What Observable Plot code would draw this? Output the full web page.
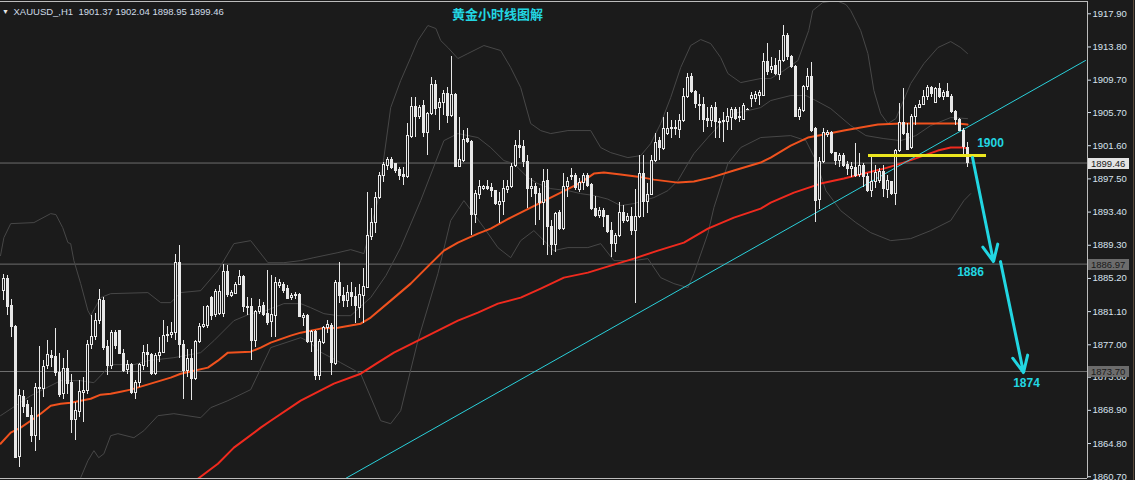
<!DOCTYPE html>
<html><head><meta charset="utf-8">
<script src="https://cdn.jsdelivr.net/npm/d3@7"></script>
<script src="https://cdn.jsdelivr.net/npm/@observablehq/plot@0.6"></script>
<style>
html,body{margin:0;padding:0;background:#1b1b1b;overflow:hidden;}
#chart svg{display:block;}
</style></head><body><div id="chart"></div>
<script>
// ---------- data (XAUUSD H1 candles, left to right) ----------
const opens = [
1883.70,1885.14,1881.84,1879.25,1863.09,1870.60,1869.60,1868.24,1865.77,1871.54,
1871.54,1874.34,1875.66,1875.45,1873.52,1870.92,1874.01,1872.24,1867.71,1868.66,
1871.00,1871.25,1877.02,1877.93,1879.99,1882.46,1876.69,1874.34,1878.42,1878.75,
1875.87,1873.89,1874.55,1871.05,1872.28,1874.38,1876.03,1875.78,1873.39,1875.62,
1876.03,1878.09,1878.17,1878.46,1887.07,1877.02,1873.81,1875.25,1872.74,1877.35,
1879.16,1879.33,1882.79,1880.69,1880.81,1880.81,1885.96,1883.08,1883.28,1884.44,
1885.43,1881.72,1881.72,1877.51,1881.10,1881.76,1880.81,1879.78,1880.61,1884.32,
1884.45,1883.90,1882.75,1883.00,1883.20,1880.32,1880.61,1877.31,1878.55,1873.19,
1877.23,1879.04,1879.37,1874.63,1884.65,1883.08,1882.46,1883.41,1882.96,1881.55,
1883.08,1884.03,1890.29,1892.02,1895.15,1897.91,1899.07,1899.89,1899.35,1898.65,
1898.00,1897.71,1902.65,1906.36,1905.12,1906.48,1903.15,1905.54,1909.12,1906.28,
1906.85,1908.01,1905.33,1907.88,1898.94,1899.77,1902.45,1902.12,1893.09,1895.56,
1896.26,1896.55,1896.35,1895.98,1894.33,1894.62,1896.18,1896.47,1899.06,1901.62,
1901.50,1899.64,1896.26,1896.47,1895.64,1894.49,1897.29,1891.61,1889.38,1893.25,
1891.32,1896.47,1897.70,1897.83,1896.14,1897.00,1897.91,1896.80,1893.79,1892.88,
1893.58,1892.88,1891.03,1889.46,1890.49,1893.30,1892.35,1892.76,1891.03,1892.76,
1898.12,1894.61,1895.56,1899.68,1902.15,1901.21,1903.06,1903.64,1903.64,1903.60,
1904.71,1907.59,1910.07,1908.29,1906.65,1906.65,1904.92,1904.63,1906.27,1904.59,
1904.71,1904.50,1905.04,1906.03,1905.04,1904.83,1906.03,1907.39,1907.39,1907.80,
1907.79,1911.91,1910.97,1911.50,1910.39,1912.12,1915.21,1912.61,1911.38,1905.20,
1905.94,1908.82,1910.06,1903.67,1894.90,1899.63,1902.97,1903.14,1900.66,1899.68,
1900.29,1899.18,1898.73,1898.81,1898.03,1899.14,1897.78,1896.05,1897.08,1897.29,
1898.40,1896.13,1897.08,1895.64,1900.99,1904.37,1903.05,1901.32,1905.20,1906.27,
1906.68,1907.67,1908.74,1906.85,1908.62,1907.67,1908.21,1907.67,1905.73,1904.79,
1903.38,1901.37];
const highs = [
1885.67,1885.55,1882.54,1879.40,1871.42,1871.33,1870.10,1869.27,1872.16,1876.77,
1875.12,1877.51,1876.28,1878.96,1875.87,1875.25,1876.28,1873.39,1869.89,1872.57,
1872.98,1877.51,1880.61,1880.81,1883.82,1882.87,1877.51,1878.75,1878.75,1878.80,
1876.48,1875.04,1874.63,1872.57,1874.71,1876.90,1877.02,1875.95,1875.95,1877.93,
1880.06,1879.25,1879.78,1888.15,1889.26,1877.51,1876.40,1876.48,1877.51,1879.66,
1881.72,1881.80,1882.95,1883.78,1884.31,1886.91,1886.79,1883.70,1884.73,1886.17,
1885.55,1882.79,1882.67,1881.22,1882.54,1882.20,1886.17,1885.55,1885.35,1885.10,
1884.70,1884.30,1883.30,1883.50,1883.30,1880.90,1880.80,1878.75,1878.80,1877.60,
1879.25,1880.00,1879.60,1884.90,1887.20,1884.10,1884.30,1884.70,1884.10,1884.50,
1886.40,1895.85,1893.79,1895.85,1898.30,1899.56,1900.10,1900.20,1899.45,1898.95,
1898.95,1904.30,1907.50,1907.60,1906.60,1907.20,1905.75,1910.07,1909.66,1907.40,
1908.40,1908.83,1912.62,1908.00,1905.12,1903.48,1903.68,1902.24,1896.06,1897.30,
1896.70,1897.30,1896.90,1896.10,1895.85,1897.30,1897.30,1899.35,1902.24,1903.47,
1902.24,1900.38,1897.50,1896.88,1896.26,1898.65,1898.65,1892.35,1893.38,1893.58,
1898.12,1897.70,1898.73,1898.12,1897.50,1898.12,1898.12,1896.96,1895.36,1894.00,
1893.79,1892.97,1892.14,1890.70,1894.61,1894.20,1893.17,1894.00,1896.14,1900.38,
1900.38,1896.88,1900.38,1903.14,1902.65,1905.12,1905.74,1904.71,1904.71,1905.45,
1908.62,1910.48,1910.48,1908.42,1907.92,1907.59,1906.27,1906.56,1906.98,1904.92,
1905.74,1906.15,1906.27,1906.27,1906.27,1906.77,1906.15,1908.21,1908.33,1908.42,
1912.94,1914.18,1912.53,1912.33,1913.36,1916.45,1915.42,1912.74,1911.50,1906.35,
1909.03,1911.09,1911.91,1903.80,1900.17,1903.67,1903.47,1903.38,1900.79,1900.58,
1900.58,1899.63,1899.55,1901.90,1900.66,1899.35,1898.11,1900.17,1899.14,1898.73,
1899.14,1897.90,1897.16,1901.08,1906.76,1908.62,1904.29,1905.44,1906.56,1907.18,
1908.41,1909.03,1908.91,1908.74,1909.32,1908.41,1909.32,1907.92,1905.94,1904.91,
1903.67,1902.04];
const lows = [
1882.46,1880.61,1877.93,1862.90,1861.86,1868.45,1868.04,1864.90,1863.84,1865.15,
1870.51,1874.01,1874.22,1873.11,1870.51,1870.30,1870.92,1865.98,1865.15,1868.04,
1867.42,1870.92,1876.48,1877.51,1879.57,1876.28,1873.19,1874.01,1876.36,1875.78,
1873.60,1873.39,1870.92,1870.30,1871.75,1873.81,1874.22,1873.19,1873.19,1874.84,
1875.87,1877.31,1877.72,1877.51,1875.25,1870.18,1872.98,1870.10,1872.57,1877.10,
1878.96,1878.96,1879.99,1880.40,1880.61,1880.40,1882.87,1882.87,1883.20,1884.31,
1881.02,1880.61,1875.04,1876.69,1880.80,1880.50,1879.40,1877.85,1877.93,1884.00,
1883.30,1882.55,1882.45,1882.60,1880.40,1879.20,1877.10,1876.10,1872.57,1872.57,
1877.00,1878.35,1873.19,1874.40,1882.05,1881.60,1881.60,1881.70,1879.60,1880.20,
1879.60,1883.90,1889.90,1890.70,1894.90,1897.10,1898.50,1898.70,1898.20,1897.30,
1896.70,1897.60,1902.45,1902.65,1904.90,1902.65,1900.40,1905.33,1905.33,1903.48,
1905.33,1904.30,1905.12,1898.90,1898.86,1899.56,1901.83,1890.50,1892.02,1895.00,
1896.06,1896.06,1895.20,1894.20,1892.02,1893.00,1895.65,1896.26,1898.94,1899.97,
1898.94,1893.79,1895.23,1891.73,1892.35,1889.26,1888.02,1888.02,1888.43,1891.11,
1891.11,1895.23,1897.29,1896.06,1895.85,1896.06,1896.47,1893.58,1892.76,1892.55,
1891.52,1890.70,1887.82,1888.43,1890.29,1891.94,1892.14,1890.49,1882.05,1892.55,
1892.76,1893.17,1895.44,1899.56,1899.76,1901.00,1902.86,1902.44,1902.86,1902.44,
1904.50,1907.39,1908.01,1906.15,1904.71,1903.27,1903.80,1903.89,1902.44,1902.44,
1902.03,1903.47,1903.47,1904.71,1904.50,1904.71,1905.90,1906.27,1906.98,1906.56,
1907.67,1910.27,1910.47,1910.27,1909.65,1911.91,1912.12,1911.09,1905.12,1904.70,
1905.73,1908.41,1903.26,1892.14,1893.78,1899.43,1902.64,1900.50,1899.14,1898.93,
1898.93,1897.90,1897.70,1897.70,1897.70,1896.46,1895.84,1895.23,1896.26,1896.87,
1895.23,1895.02,1895.43,1894.20,1900.79,1902.85,1900.99,1901.08,1904.09,1906.15,
1906.56,1907.18,1907.59,1906.76,1907.38,1907.18,1907.50,1905.53,1904.09,1903.38,
1900.38,1898.95];
const closes = [
1885.14,1881.64,1879.25,1863.00,1870.72,1869.27,1868.12,1865.69,1871.66,1871.66,
1874.30,1875.74,1875.33,1873.48,1870.84,1874.01,1872.16,1867.71,1868.78,1871.21,
1871.29,1877.02,1877.93,1879.99,1882.58,1876.61,1874.34,1878.50,1876.81,1875.87,
1873.81,1874.55,1871.05,1872.32,1874.51,1876.03,1875.74,1873.39,1875.66,1876.03,
1878.13,1878.26,1878.46,1887.07,1877.02,1873.81,1875.25,1872.74,1877.35,1879.25,
1879.49,1881.64,1880.61,1883.49,1883.49,1885.96,1883.16,1883.37,1884.44,1885.43,
1881.64,1881.55,1877.51,1881.10,1881.72,1880.73,1879.66,1880.73,1884.65,1884.65,
1883.70,1882.67,1883.08,1883.16,1880.48,1880.61,1877.31,1878.55,1873.19,1877.39,
1879.08,1879.45,1874.72,1884.65,1883.08,1882.38,1883.41,1882.87,1881.84,1883.20,
1884.19,1890.41,1892.06,1895.19,1897.91,1899.27,1899.89,1898.86,1898.45,1897.91,
1897.71,1902.77,1906.44,1905.12,1906.28,1903.15,1905.54,1909.12,1906.15,1906.90,
1908.01,1905.33,1907.88,1898.94,1899.89,1902.32,1902.03,1893.09,1895.65,1896.55,
1896.55,1896.26,1895.98,1894.41,1894.62,1896.26,1896.47,1899.00,1901.62,1901.29,
1899.56,1896.26,1896.47,1895.64,1894.49,1897.17,1891.52,1889.38,1893.17,1891.32,
1896.47,1897.17,1897.91,1896.35,1897.00,1897.91,1896.59,1893.75,1892.88,1893.58,
1892.76,1890.91,1889.46,1890.49,1893.30,1892.35,1892.76,1891.11,1892.76,1898.12,
1894.61,1895.56,1899.68,1901.91,1901.29,1903.68,1903.68,1903.76,1903.76,1904.71,
1907.59,1909.98,1908.21,1906.77,1906.56,1904.79,1904.63,1906.27,1904.59,1904.38,
1904.50,1905.12,1906.03,1904.92,1905.12,1906.56,1906.05,1907.80,1907.92,1908.09,
1911.91,1910.68,1911.30,1910.47,1912.12,1915.21,1912.53,1911.38,1905.20,1906.02,
1908.91,1910.06,1903.47,1894.81,1899.63,1903.14,1903.22,1900.66,1899.76,1900.29,
1899.14,1898.73,1898.93,1897.90,1899.14,1897.78,1896.05,1897.08,1898.19,1898.32,
1896.26,1897.20,1895.64,1900.99,1904.37,1903.05,1901.08,1905.20,1906.27,1906.68,
1907.67,1908.74,1908.00,1908.62,1907.59,1908.12,1907.67,1905.73,1904.79,1903.47,
1901.41,1899.46];

// moving averages and Bollinger bands: [bar index, price]
const maFast = [[-0.75,1864.78],[1.8,1866.14],[4.3,1866.76],[6.8,1867.62],[9.3,1868.49],[11.8,1869.48],[14.3,1869.72],[16.8,1869.85],[19.3,1870.10],[21.8,1870.34],[24.3,1870.84],[26.8,1870.96],[29.3,1871.21],[31.8,1871.46],[34.3,1871.83],[36.8,1872.20],[39.3,1872.57],[41.8,1872.94],[44.3,1873.43],[47.6,1873.80],[51.1,1874.18],[53.6,1875.04],[56.1,1876.03],[61.8,1876.15],[64.3,1876.65],[66.8,1877.27],[71.8,1878.13],[74.3,1878.50],[79.3,1879.00],[83.6,1879.12],[89.3,1879.61],[91.8,1880.36],[96.8,1882.46],[101.8,1884.56],[106.8,1887.03],[110.1,1888.64],[113.6,1889.63],[118.6,1890.74],[121.8,1891.36],[126.8,1892.72],[129.3,1893.33],[134.3,1894.57],[139.3,1895.81],[144.3,1897.04],[147.6,1898.16],[150.1,1898.28],[154.3,1898.03],[158.6,1897.78],[162.6,1897.41],[168.6,1897.04],[172.6,1897.17],[176.8,1897.66],[182.6,1898.53],[189.3,1899.52],[191.8,1900.13],[196.8,1901.62],[201.1,1902.61],[205.1,1902.98],[210.1,1903.47],[214.3,1903.84],[218.6,1904.21],[224.3,1904.34],[230.1,1904.34],[235.1,1904.34],[238.6,1904.34],[241,1904.21]];
const maSlow = [[48.1,1860.21],[48.6,1860.45],[53.6,1862.31],[57.6,1864.29],[64.3,1866.76],[66.8,1867.62],[74.3,1870.10],[82.6,1872.20],[89.3,1873.43],[93.6,1874.79],[97.6,1876.03],[103.6,1877.51],[108.6,1878.75],[113.6,1879.98],[118.6,1880.97],[123.6,1882.09],[129.3,1882.83],[134.3,1883.94],[140.1,1885.30],[146.1,1885.92],[151.8,1886.78],[157.6,1887.65],[163.6,1888.64],[170.1,1889.63],[176.1,1891.36],[182.6,1892.72],[189.3,1893.83],[191.8,1894.57],[197.6,1895.81],[204.3,1896.92],[210.1,1897.54],[215.1,1898.16],[220.1,1898.77],[224.3,1899.39],[228.6,1900.13],[233.6,1901.00],[236.8,1901.37],[240.1,1901.37],[241,1901.25]];
const bbUpper = [[-0.75,1888.02],[0.1,1890.24],[1.8,1891.97],[7.6,1892.10],[11.8,1893.21],[13.1,1893.09],[14.8,1891.48],[16.1,1889.63],[16.8,1889.50],[17.6,1887.40],[19.3,1884.56],[21.1,1881.22],[21.8,1880.60],[24.3,1882.83],[26.8,1883.32],[36.1,1883.45],[39.3,1882.21],[41.8,1882.21],[44.3,1883.45],[49.3,1883.69],[53.6,1886.17],[57.6,1889.50],[61.8,1889.87],[66.1,1887.15],[70.1,1887.15],[74.3,1887.40],[77.6,1887.77],[83.6,1888.39],[86.8,1888.76],[90.1,1888.27],[93.6,1894.82],[95.1,1900.13],[96.8,1906.31],[99.3,1909.65],[101.8,1912.49],[103.6,1914.60],[106.1,1916.45],[108.1,1916.08],[109.3,1914.60],[111.1,1913.73],[113.6,1912.37],[116.1,1912.99],[120.1,1913.98],[124.3,1913.36],[126.8,1911.26],[129.3,1908.79],[131.8,1904.34],[134.3,1903.47],[136.8,1903.10],[141.1,1903.47],[146.8,1903.47],[149.3,1901.37],[151.8,1900.75],[156.1,1900.13],[159.3,1900.38],[161.8,1901.86],[164.3,1904.34],[166.8,1907.55],[169.3,1911.26],[171.8,1913.98],[174.3,1914.72],[176.8,1914.22],[179.3,1912.49],[181.1,1910.52],[184.3,1909.40],[189.3,1909.90],[191.8,1909.90],[195.1,1910.89],[198.6,1912.12],[201.3,1915.83],[202.3,1918.30],[204.8,1919.29],[208.1,1919.54],[210.6,1919.05],[211.8,1918.30],[214.3,1915.83],[216.1,1912.99],[217.6,1908.42],[219.3,1905.57],[221.1,1904.34],[223.1,1904.95],[226.8,1909.28],[230.1,1911.75],[233.6,1913.73],[236.8,1914.47],[239.3,1913.73],[241,1912.99]];
const bbMiddle = [[-0.75,1868.24],[6.8,1870.71],[14.3,1872.57],[19.3,1872.57],[22.6,1872.32],[24.3,1873.19],[26.8,1874.55],[32.6,1874.55],[36.1,1875.04],[42.6,1875.41],[49.3,1876.03],[52.6,1877.51],[57.6,1879.98],[61.8,1880.85],[64.3,1880.97],[70.1,1882.09],[74.3,1882.09],[76.8,1881.59],[80.1,1880.85],[83.6,1880.60],[86.8,1880.60],[90.1,1882.09],[91.8,1882.83],[95.6,1885.55],[99.3,1889.01],[104.3,1894.82],[110.1,1902.23],[113.6,1903.10],[118.6,1902.61],[121.8,1901.37],[125.1,1899.76],[127.6,1899.39],[131.1,1897.66],[133.6,1896.92],[136.8,1896.30],[141.1,1896.05],[144.3,1895.68],[147.6,1895.45],[151.1,1895.00],[154.3,1894.20],[157.6,1894.45],[160.1,1894.82],[162.6,1895.19],[166.1,1896.05],[168.6,1897.29],[171.1,1899.39],[172.6,1900.63],[176.1,1902.61],[179.3,1904.34],[182.6,1905.57],[186.1,1905.94],[189.3,1906.31],[191.8,1907.18],[196.8,1907.80],[200.6,1907.80],[203.1,1907.18],[206.8,1906.19],[211.8,1904.09],[215.6,1902.85],[220.1,1902.48],[224.3,1902.23],[228.1,1902.85],[231.8,1904.09],[236.8,1905.08],[241,1904.95]];
const bbLower = [[18.0,1859.59],[19.3,1860.58],[21.1,1862.68],[22.6,1863.92],[23.8,1863.05],[25.1,1863.54],[26.8,1865.77],[28.6,1866.02],[32.6,1865.52],[35.1,1866.39],[38.6,1868.24],[42.6,1868.49],[49.3,1867.99],[51.8,1869.23],[56.1,1870.10],[61.8,1871.46],[66.8,1876.65],[74.3,1877.88],[76.8,1877.27],[78.6,1876.28],[84.3,1874.79],[89.3,1873.43],[94.3,1867.62],[96.8,1867.25],[99.3,1868.86],[103.6,1877.51],[108.6,1885.79],[111.8,1892.35],[115.1,1894.82],[120.1,1891.48],[123.6,1889.01],[126.8,1887.77],[129.3,1889.87],[132.6,1891.11],[137.6,1888.64],[141.1,1889.01],[146.1,1889.01],[149.3,1889.50],[152.6,1887.40],[157.6,1887.40],[161.1,1887.65],[164.3,1885.30],[167.6,1884.56],[171.1,1884.06],[172.6,1885.79],[176.1,1890.74],[177.6,1893.95],[181.1,1899.39],[184.3,1901.37],[189.3,1902.61],[196.8,1902.85],[200.6,1902.23],[203.1,1899.76],[205.6,1896.05],[209.3,1893.58],[213.1,1892.10],[216.8,1890.86],[221.8,1889.87],[226.8,1890.12],[231.8,1891.11],[236.8,1892.35],[240.1,1894.82],[241.8,1895.68]];

// annotations
const trendLine = [[85.5,1860.48],[270.5,1912.13]];
const supportLine = {i1: 216.25, i2: 245.75, p: 1900.38};
const arrows = [{i1: 242.25, p1: 1900.14, i2: 247.5, p2: 1887.28}, {i1: 249.25, p1: 1887.28, i2: 255.0, p2: 1873.56}];
const targetLabels = [{i: 246.75, p: 1901.87, t: "1900"}, {i: 241.75, p: 1885.92, t: "1886"}, {i: 255.75, p: 1872.2, t: "1874"}];
const priceLines = [1899.46, 1886.97, 1873.70];
const tickValues = [1917.90,1913.80,1909.70,1905.70,1901.60,1897.50,1893.40,1889.30,1885.20,1881.10,1877.00,1873.00,1868.90,1864.80,1860.70];
const headerText = "XAUUSD_,H1\u00a0\u00a01901.37 1902.04 1898.95 1899.46";
const titleText = "黄金小时线图解";
const xDomain = [-0.75, 271];
const yDomain = [1860.48, 1919.42];

// ---------- styling ----------
const BG = "#1b1b1b", CANDLE = "#e8e8e8", CYAN = "#22d6e2", AXIS = "#d6e2ee", FRAME = "#bdbdbd";

const bars = opens.map((o, k) => ({k, o, h: highs[k], l: lows[k], c: closes[k]}));
const up = bars.filter(d => d.c >= d.o);
const down = bars.filter(d => d.c < d.o);
const pts = arr => arr.map(([k, p]) => ({k, p}));

const bodyOpts = (fill) => ({
  x1: d => d.k - 0.25, x2: d => d.k + 0.25,
  y1: d => Math.min(d.o, d.c), y2: d => Math.max(d.o, d.c),
  fill, stroke: CANDLE, strokeWidth: 1, shapeRendering: "crispEdges"
});

const chart = Plot.plot({
  width: 1135, height: 480,
  marginLeft: 0, marginRight: 48, marginTop: 1, marginBottom: 2,
  style: {background: BG, color: AXIS, fontFamily: "'Liberation Sans', Arial, sans-serif", fontSize: "9.5px", overflow: "visible"},
  x: {type: "linear", domain: xDomain, axis: null},
  y: {type: "linear", domain: yDomain, label: null},
  marks: [
    Plot.ruleY(priceLines, {stroke: "#6e6e6e", strokeWidth: 1}),
    Plot.line(pts(bbUpper), {x: "k", y: "p", stroke: "#474747", strokeWidth: 1, clip: true}),
    Plot.line(pts(bbMiddle), {x: "k", y: "p", stroke: "#474747", strokeWidth: 1, clip: true}),
    Plot.line(pts(bbLower), {x: "k", y: "p", stroke: "#474747", strokeWidth: 1, clip: true}),
    Plot.line(pts(maSlow), {x: "k", y: "p", stroke: "#f02a1e", strokeWidth: 2, clip: true}),
    Plot.line(pts(maFast), {x: "k", y: "p", stroke: "#f0521e", strokeWidth: 2, clip: true}),
    Plot.line(pts(trendLine), {x: "k", y: "p", stroke: "#2ad0da", strokeWidth: 1, clip: true}),
    Plot.ruleX(bars, {x: "k", y1: "l", y2: "h", stroke: CANDLE, strokeWidth: 1, shapeRendering: "crispEdges"}),
    Plot.rect(up, bodyOpts(BG)),
    Plot.rect(down, bodyOpts(CANDLE)),
    Plot.ruleY([supportLine], {y: "p", x1: "i1", x2: "i2", stroke: "#ece61e", strokeWidth: 3}),
    Plot.arrow(arrows, {x1: "i1", y1: "p1", x2: "i2", y2: "p2", stroke: CYAN, strokeWidth: 3, headLength: 9, headAngle: 50}),
    Plot.text(targetLabels, {x: "i", y: "p", text: "t", fill: CYAN, fontSize: 12, fontWeight: "bold", fontFamily: "'Liberation Sans', Arial, sans-serif"}),
    Plot.axisY({anchor: "right", ticks: tickValues, tickFormat: d => d.toFixed(2), tickSize: 3, tickPadding: 2, label: null, fontSize: 9.5}),
    Plot.ruleY([yDomain[1]], {stroke: FRAME}),
    Plot.ruleY([yDomain[0]], {stroke: FRAME}),
    Plot.ruleX([xDomain[1]], {stroke: FRAME}),
    Plot.text(["▼"], {frameAnchor: "top-left", dx: 5, dy: 10, lineAnchor: "middle", textAnchor: "middle", fill: "#e6e6e6", fontSize: 7}),
    Plot.text([headerText], {frameAnchor: "top-left", dx: 13, dy: 10, lineAnchor: "middle", textAnchor: "start", fill: "#cfdbe8", fontSize: 9.5}),
    Plot.text([titleText], {frameAnchor: "top-left", dx: 497, dy: 13.5, lineAnchor: "middle", textAnchor: "middle", fill: CYAN, fontSize: 13, fontWeight: "bold", fontFamily: "'Noto Sans CJK SC', sans-serif"})
  ]
});

document.getElementById("chart").appendChild(chart);

// price tags on the axis, placed with Plot's own y scale
const ys = chart.scale("y");
const svg = d3.select(chart);
const tags = svg.append("g").attr("text-anchor", "start");
priceLines.forEach((v, idx) => {
  const y = Math.round(ys.apply(v));
  tags.append("rect").attr("x", 1088).attr("y", y - 5).attr("width", 41).attr("height", 11)
    .attr("fill", idx === 0 ? "#e4e4e4" : "#6c6c6c");
  tags.append("text").attr("x", 1091).attr("y", y + 0.5).attr("dy", "0.34em")
    .attr("text-anchor", "start")
    .attr("fill", "#1a1a1a").attr("font-size", "9.5px")
    .attr("font-family", "'Liberation Sans', Arial, sans-serif").text(v.toFixed(2));
});
svg.append("line").attr("x1", 1133.5).attr("x2", 1133.5).attr("y1", 0).attr("y2", 480)
  .attr("stroke", "#5a4a3c").attr("stroke-width", 1);
</script>
</body></html>
